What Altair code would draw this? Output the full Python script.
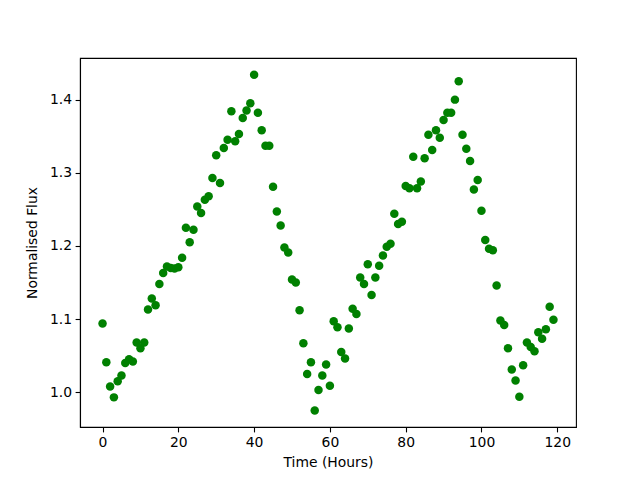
import altair as alt
import pandas as pd

hours = list(range(120))
flux = [
    1.094, 1.041, 1.008, 0.993, 1.015, 1.023, 1.040, 1.045, 1.042, 1.068,
    1.060, 1.068, 1.113, 1.128, 1.119, 1.148, 1.163, 1.172, 1.170, 1.169,
    1.171, 1.184, 1.225, 1.205, 1.222, 1.254, 1.245, 1.263, 1.268, 1.293,
    1.324, 1.286, 1.334, 1.345, 1.384, 1.343, 1.353, 1.375, 1.385, 1.395,
    1.434, 1.382, 1.358, 1.337, 1.337, 1.281, 1.247, 1.228, 1.198, 1.191,
    1.154, 1.150, 1.112, 1.067, 1.025, 1.041, 0.975, 1.003, 1.023, 1.038,
    1.009, 1.097, 1.089, 1.055, 1.046, 1.087, 1.114, 1.107, 1.157, 1.148,
    1.175, 1.133, 1.157, 1.173, 1.187, 1.199, 1.203, 1.244, 1.230, 1.233,
    1.282, 1.279, 1.322, 1.279, 1.288, 1.320, 1.352, 1.331, 1.358, 1.348,
    1.372, 1.382, 1.382, 1.400, 1.425, 1.352, 1.333, 1.316, 1.277, 1.290,
    1.248, 1.208, 1.196, 1.194, 1.146, 1.098, 1.092, 1.060, 1.031, 1.016,
    0.994, 1.037, 1.068, 1.062, 1.056, 1.082, 1.073, 1.086, 1.117, 1.099,
]
x_ticks = [0, 20, 40, 60, 80, 100, 120]
y_ticks = [1.0, 1.1, 1.2, 1.3, 1.4]

df = pd.DataFrame({"hours": hours, "flux": flux})

FONT = "DejaVu Sans"

chart = (
    alt.Chart(df)
    .mark_circle(color="#008000", opacity=1, size=72)
    .encode(
        x=alt.X(
            "hours:Q",
            title="Time (Hours)",
            scale=alt.Scale(domain=[-5.95, 124.95], nice=False, zero=False),
            axis=alt.Axis(values=x_ticks, format="d", titlePadding=6),
        ),
        y=alt.Y(
            "flux:Q",
            title="Normalised Flux",
            scale=alt.Scale(domain=[0.9525, 1.4569], nice=False, zero=False),
            axis=alt.Axis(values=y_ticks, format=".1f", titlePadding=10),
        ),
    )
    .properties(
        width=496,
        height=369,
        background="white",
        autosize=alt.AutoSizeParams(type="none"),
        padding={"left": 72, "top": 50, "right": 56, "bottom": 45},
    )
    .configure_view(stroke="black", strokeWidth=1.1)
    .configure_axis(
        grid=False,
        domainColor="black",
        domainWidth=1.1,
        tickColor="black",
        tickSize=4.9,
        tickWidth=1.1,
        labelColor="black",
        labelFont=FONT,
        labelFontSize=13.9,
        labelPadding=3.5,
        titleFont=FONT,
        titleFontSize=13.9,
        titleFontWeight="normal",
        titleColor="black",
    )
)

chart.save("out.html", embed_options={"renderer": "svg", "actions": False})
